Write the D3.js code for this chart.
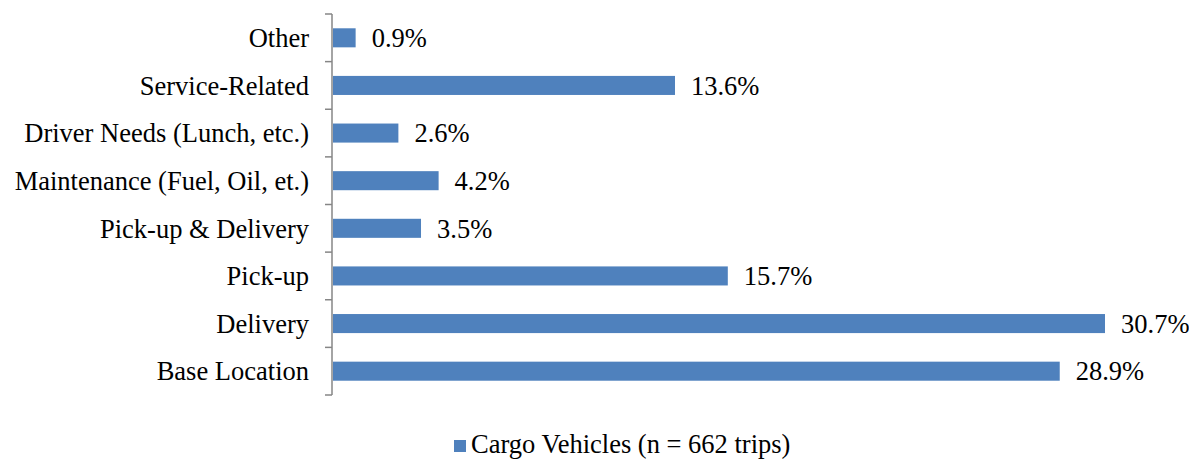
<!DOCTYPE html>
<html>
<head>
<meta charset="utf-8">
<script src="https://cdn.jsdelivr.net/npm/d3@7"></script>
<style>
  body { margin: 0; background: #fff; }
</style>
</head>
<body>
<div id="chart"></div>
<script>
const categories = ['Other', 'Service-Related', 'Driver Needs (Lunch, etc.)', 'Maintenance (Fuel, Oil, et.)',
    'Pick-up & Delivery', 'Pick-up', 'Delivery', 'Base Location'];
const values = [0.9, 13.6, 2.6, 4.2, 3.5, 15.7, 30.7, 28.9];
const seriesName = 'Cargo Vehicles (n = 662 trips)';

const W = 1189, H = 459;
const FS = 26.5;
const svg = d3.select('#chart').append('svg')
    .attr('width', W)
    .attr('height', H)
    .style('font-family', "'Liberation Serif', 'Times New Roman', serif");

const x = d3.scaleLinear().domain([0, 30.7]).range([333, 1105]);
const y = d3.scaleBand().domain(categories).range([14, 395]).paddingInner(0.6).paddingOuter(0.3);
const yTicks = d3.scaleBand().domain(categories).range([14, 395]);

// bars
svg.append('g').selectAll('rect')
    .data(categories)
    .join('rect')
    .attr('x', x(0))
    .attr('y', d => y(d))
    .attr('width', (d, i) => x(values[i]) - x(0))
    .attr('height', y.bandwidth())
    .attr('fill', '#4f81bd');

// value labels
svg.append('g').selectAll('text')
    .data(categories)
    .join('text')
    .attr('x', (d, i) => x(values[i]) + 16)
    .attr('y', d => y(d) + y.bandwidth() / 2)
    .attr('dy', '0.35em')
    .attr('font-size', FS)
    .text((d, i) => values[i].toFixed(1) + '%');

// axis
const axis = svg.append('g');
axis.append('line')
    .attr('x1', 332).attr('x2', 332)
    .attr('y1', 14).attr('y2', 395)
    .attr('stroke', '#868686').attr('stroke-width', 1.5);
const tickYs = categories.map(c => yTicks(c)).concat([395]);
axis.selectAll('line.tick')
    .data(tickYs)
    .join('line')
    .attr('class', 'tick')
    .attr('x1', 325).attr('x2', 332)
    .attr('y1', d => d).attr('y2', d => d)
    .attr('stroke', '#868686').attr('stroke-width', 1.5);
axis.selectAll('text')
    .data(categories)
    .join('text')
    .attr('x', 309)
    .attr('y', d => y(d) + y.bandwidth() / 2)
    .attr('dy', '0.35em')
    .attr('text-anchor', 'end')
    .attr('font-size', FS)
    .text(d => d);

// legend
const legend = svg.append('g');
legend.append('rect')
    .attr('x', 454).attr('y', 440)
    .attr('width', 12).attr('height', 12)
    .attr('fill', '#4f81bd');
legend.append('text')
    .attr('x', 471).attr('y', 444)
    .attr('dy', '0.35em')
    .attr('font-size', FS)
    .text(seriesName);
</script>
</body>
</html>
